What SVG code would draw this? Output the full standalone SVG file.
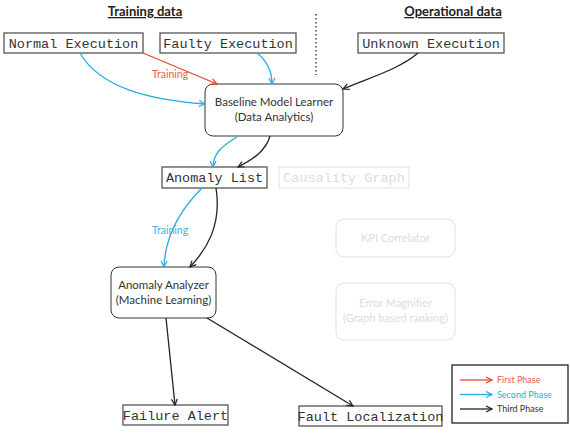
<svg xmlns="http://www.w3.org/2000/svg" width="570" height="436" viewBox="0 0 570 436">
<style>
.mono{font-family:"Liberation Mono","Courier New",monospace;font-size:13.5px;fill:#333}
.sans{font-family:Lato,"Open Sans",sans-serif;fill:#333}
.box{fill:#fff;stroke:#555;stroke-width:1.3}
.rbox{fill:#fff;stroke:#333;stroke-width:1}
.ghost{fill:#fff;stroke:#e0e0e0;stroke-width:1}
.ghostt{fill:#dcdcdc}
.title{font-family:Lato,"Open Sans",sans-serif;font-size:13px;font-weight:bold;fill:#222;text-decoration:underline}
.red{fill:none;stroke:#e8472f;stroke-width:1.3}
.blue{fill:none;stroke:#29aae1;stroke-width:1.3}
.blk{fill:none;stroke:#222;stroke-width:1.3}
</style>
<defs>
<marker id="ar" markerWidth="8" markerHeight="8" refX="7" refY="4" orient="auto" markerUnits="userSpaceOnUse"><path d="M1,1 L7,4 L1,7" fill="none" stroke="#e8472f" stroke-width="1.2"/></marker>
<marker id="ab" markerWidth="8" markerHeight="8" refX="7" refY="4" orient="auto" markerUnits="userSpaceOnUse"><path d="M1,1 L7,4 L1,7" fill="none" stroke="#29aae1" stroke-width="1.2"/></marker>
<marker id="ak" markerWidth="8" markerHeight="8" refX="7" refY="4" orient="auto" markerUnits="userSpaceOnUse"><path d="M1,1 L7,4 L1,7" fill="none" stroke="#222" stroke-width="1.2"/></marker>
</defs>
<rect width="570" height="436" fill="#fff"/>
<text class="title" x="145" y="16" text-anchor="middle">Training data</text>
<text class="title" x="453" y="16" text-anchor="middle">Operational data</text>
<line x1="316" y1="14" x2="316" y2="75" stroke="#222" stroke-width="1.3" stroke-dasharray="1.5,2.5"/>

<g id="normal"><rect class="box" x="4" y="33" width="139" height="20"/><text class="mono" x="73.5" y="47.5" text-anchor="middle">Normal Execution</text></g>
<g id="faulty"><rect class="box" x="160" y="33" width="136" height="20"/><text class="mono" x="228" y="47.5" text-anchor="middle">Faulty Execution</text></g>
<g id="unknown"><rect class="box" x="358" y="33" width="146" height="20"/><text class="mono" x="431" y="47.5" text-anchor="middle">Unknown Execution</text></g>
<g id="baseline"><rect class="rbox" x="205" y="84" width="138" height="52" rx="8"/><text class="sans" font-size="11.5" x="274" y="106" text-anchor="middle">Baseline Model Learner</text><text class="sans" font-size="11.5" x="274" y="121" text-anchor="middle">(Data Analytics)</text></g>
<g id="anomalylist"><rect class="box" x="162" y="167" width="105" height="21"/><text class="mono" x="214.5" y="182" text-anchor="middle">Anomaly List</text></g>
<g id="causality"><rect class="ghost" x="279" y="167" width="130" height="21"/><text class="mono ghostt" x="344" y="182" text-anchor="middle">Causality Graph</text></g>
<g id="kpi"><rect class="ghost" x="336" y="219" width="119" height="38" rx="8"/><text class="sans ghostt" font-size="11" x="395.5" y="242" text-anchor="middle">KPI Correlator</text></g>
<g id="errormag"><rect class="ghost" x="336" y="283" width="119" height="57" rx="8"/><text class="sans ghostt" font-size="11" x="395.5" y="307" text-anchor="middle">Error Magnifier</text><text class="sans ghostt" font-size="11" x="395.5" y="322" text-anchor="middle">(Graph based ranking)</text></g>
<g id="analyzer"><rect class="rbox" x="111" y="267" width="105" height="51" rx="8"/><text class="sans" font-size="11.5" x="163.5" y="289" text-anchor="middle">Anomaly Analyzer</text><text class="sans" font-size="11.5" x="163.5" y="304" text-anchor="middle">(Machine Learning)</text></g>
<g id="failure"><rect class="box" x="123" y="405" width="105" height="20"/><text class="mono" x="175.5" y="419.5" text-anchor="middle">Failure Alert</text></g>
<g id="faultloc"><rect class="box" x="299" y="406" width="143" height="20"/><text class="mono" x="370.5" y="420.5" text-anchor="middle">Fault Localization</text></g>

<g id="connectors">
<path class="red" d="M143,53 L217,84" marker-end="url(#ar)"/>
<path class="blue" d="M80,53 C100,88 150,100 205,104" marker-end="url(#ab)"/>
<path class="blue" d="M257,53 C267,61 272,72 272,84" marker-end="url(#ab)"/>
<path class="blk" d="M418,53 C398,70 368,78 343,89" marker-end="url(#ak)"/>
<path class="blue" d="M237,137 C220,147 213,155 213,167" marker-end="url(#ab)"/>
<path class="blk" d="M270,136 C266,151 252,160 238,167" marker-end="url(#ak)"/>
<path class="blue" d="M202,188 C176,214 165,240 164,267" marker-end="url(#ab)"/>
<path class="blk" d="M216,188 C222,226 206,250 190,267" marker-end="url(#ak)"/>
<path class="blk" d="M166,318 L175,405" marker-end="url(#ak)"/>
<path class="blk" d="M207,318 L353,406" marker-end="url(#ak)"/>
<text class="sans" font-size="10.5" x="170" y="78" text-anchor="middle" fill="#e8604c" style="fill:#e8604c">Training</text>
<text class="sans" font-size="10.5" x="170" y="234" text-anchor="middle" style="fill:#4aaee0">Training</text>
</g>

<g id="legend">
<rect x="452" y="365" width="116" height="58" fill="#fff" stroke="#222" stroke-width="1.3"/>
<path class="red" d="M460,380 L492,380" marker-end="url(#ar)"/>
<path class="blue" d="M460,394.5 L492,394.5" marker-end="url(#ab)"/>
<path class="blk" d="M460,409 L492,409" marker-end="url(#ak)"/>
<text class="sans" font-size="9" x="497" y="383" style="fill:#e8604c">First Phase</text>
<text class="sans" font-size="9" x="497" y="397.5" style="fill:#29aae1">Second Phase</text>
<text class="sans" font-size="9" x="497" y="412" style="fill:#333">Third Phase</text>
</g>
</svg>
